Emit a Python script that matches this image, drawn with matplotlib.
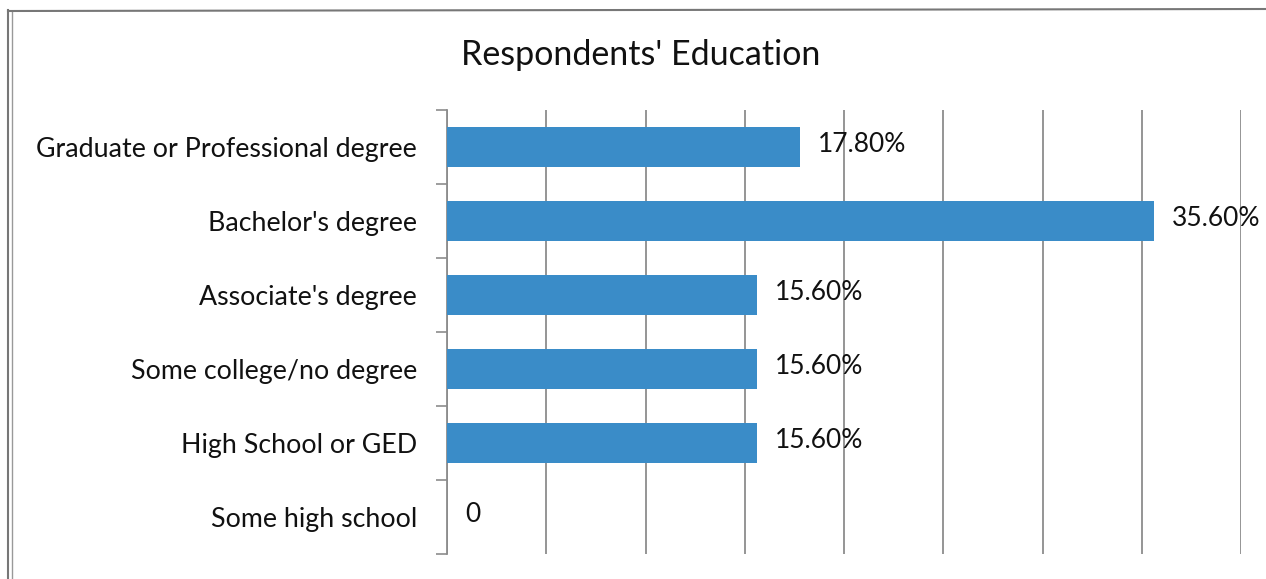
import numpy as np
import matplotlib
matplotlib.use("Agg")
import matplotlib.pyplot as plt
from matplotlib.lines import Line2D

categories = ["Graduate or Professional degree", "Bachelor's degree", "Associate's degree",
              "Some college/no degree", "High School or GED", "Some high school"]
values = [17.8, 35.6, 15.6, 15.6, 15.6, 0.0]
labels = ["17.80%", "35.60%", "15.60%", "15.60%", "15.60%", "0"]

plt.rcParams["font.family"] = ["Lato", "DejaVu Sans"]
BLUE = "#3a8cc8"
GRID = "#8c8c8c"

fig = plt.figure(figsize=(12.66, 5.79), dpi=100)
ax = fig.add_axes([447 / 1266, 1 - 554 / 579, (1241 - 447) / 1266, (554 - 110) / 579])

y = np.arange(len(categories))
ax.barh(y, values, height=0.54, color=BLUE, zorder=3)
ax.set_xlim(0, 40)
ax.set_ylim(len(categories) - 0.5, -0.5)
ax.set_xticks(np.arange(0, 41, 5))
ax.xaxis.grid(True, color=GRID, lw=1.3, zorder=0)
ax.tick_params(axis="x", length=0, labelbottom=False)
ax.set_yticks(y)
ax.set_yticklabels(categories, fontsize=19.3, color="#111111")
ax.tick_params(axis="y", which="major", length=0, pad=21.5)
ax.set_yticks(np.arange(-0.5, len(categories), 1), minor=True)
ax.tick_params(axis="y", which="minor", length=8, color=GRID, width=1.2)
for s in ("top", "right", "bottom"):
    ax.spines[s].set_visible(False)
ax.spines["left"].set_color(GRID)
ax.spines["left"].set_linewidth(1.3)

for yi, v, lab in zip(y, values, labels):
    ax.annotate(lab, (v, yi), xytext=(18, 2), textcoords="offset pixels",
                va="center", ha="left", fontsize=19, color="#111111", zorder=4)

fig.text(641 / 1266, 1 - 55 / 579, "Respondents' Education", ha="center", va="center",
         fontsize=24.5, color="#111111")

# outer chart frame
fig.add_artist(Line2D([8 / 1266, 8 / 1266], [0, 1 - 10 / 579], transform=fig.transFigure,
                      color="#777777", lw=1.5))
fig.add_artist(Line2D([12 / 1266, 12 / 1266], [0, 1 - 12 / 579], transform=fig.transFigure,
                      color="#999999", lw=1.0))
fig.add_artist(Line2D([8 / 1266, 1], [1 - 11 / 579, 1 - 9 / 579], transform=fig.transFigure,
                      color="#777777", lw=1.5))

fig.savefig("out.png", dpi=100)
